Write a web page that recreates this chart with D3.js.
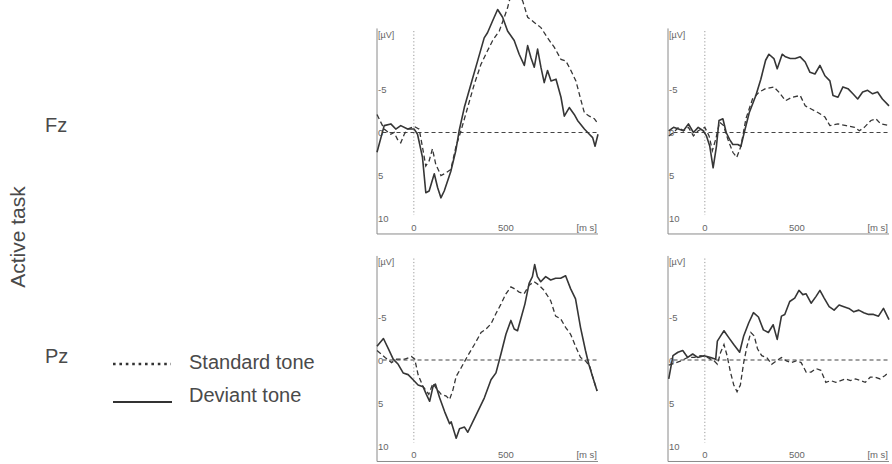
<!DOCTYPE html>
<html>
<head>
<meta charset="utf-8">
<script src="https://cdn.jsdelivr.net/npm/d3@7"></script>
<style>
  html, body { margin: 0; padding: 0; background: #fff; }
  svg { display: block; }
  text { font-family: "Liberation Sans", Arial, Helvetica, sans-serif; }
</style>
</head>
<body>
<svg id="chart" width="892" height="464"></svg>
<script>
// ---------- data (time in ms, amplitude in µV; negative plotted upward) ----------
const rowLabels = ["Fz", "Pz"];
const sideLabel = "Active task";
const seriesNames = ["Standard tone", "Deviant tone"];
const xTicks = [0, 500];
const xUnit = "[m s]";
const yTicks = [-5, 0, 5, 10];
const yUnit = "[µV]";

const fzLeftStandard = [[-200,-2.1],[-161,-0.4],[-125,0.2],[-107,0],[-89,0.8],[-71,1.2],[-52,0.2],[-34,-0.4],[2,-0.7],[29,-0.4],[47,1.7],[65,3.9],[83,3.3],[101,1.9],[119,3.7],[147,5.0],[174,4.7],[201,4.3],[228,1.7],[256,-0.2],[292,-2.9],[328,-5.6],[364,-7.9],[400,-9.5],[428,-10.7],[464,-11.8],[491,-13.4],[509,-14.5],[518,-15.3],[545,-16.5],[572,-16.1],[591,-15.3],[618,-13.4],[654,-12.8],[690,-12.2],[726,-11.0],[763,-9.9],[799,-8.5],[826,-8.3],[853,-7.2],[880,-6.0],[908,-3.7],[926,-2.3],[953,-1.9],[980,-1.6],[1000,-1.0]];
const fzLeftDeviant = [[-200,2.3],[-161,-0.8],[-125,-1.0],[-98,-0.4],[-71,-0.8],[-34,-0.4],[2,-0.4],[20,0.2],[47,2.9],[65,7.0],[83,6.8],[111,4.8],[129,6.4],[147,7.6],[165,6.8],[201,4.5],[228,2.1],[246,-0.2],[274,-2.9],[310,-5.6],[346,-8.3],[382,-11.0],[400,-11.6],[428,-13.0],[455,-14.3],[482,-13.4],[509,-11.8],[545,-10.7],[572,-9.1],[600,-7.8],[618,-10.1],[636,-8.7],[654,-7.6],[672,-9.7],[690,-7.6],[708,-5.8],[726,-7.2],[745,-6.0],[772,-6.2],[799,-4.1],[817,-1.9],[844,-2.9],[871,-2.1],[889,-1.4],[926,-0.4],[953,0.2],[971,0.6],[984,1.6],[1000,0.2]];

const fzRightStandard = [[-196,0.4],[-170,0],[-143,-0.6],[-116,-0.2],[-89,-0.6],[-62,0.4],[-36,-0.2],[0,-0.6],[23,0.4],[41,2.1],[59,0.8],[80,-1.2],[102,-0.8],[125,0.8],[152,2.3],[173,2.9],[196,1.6],[223,-1.6],[259,-3.9],[295,-4.7],[330,-5.1],[375,-5.3],[402,-4.7],[438,-3.7],[473,-4.1],[518,-4.3],[545,-3.1],[580,-2.7],[616,-2.3],[652,-1.8],[679,-0.8],[723,-1.0],[768,-0.8],[813,-0.6],[839,-0.2],[866,-0.6],[902,-1.4],[929,-1.6],[955,-1.0],[1000,-0.8]];
const fzRightDeviant = [[-196,-0.2],[-170,-0.6],[-143,-0.4],[-116,-0.2],[-89,-1.0],[-62,0],[-36,-0.6],[-9,-0.2],[9,0.4],[27,1.6],[45,4.1],[63,1.6],[77,-1.4],[98,-1.6],[116,0],[134,0.8],[152,1.4],[179,1.4],[196,1.6],[214,0],[241,-2.3],[277,-4.3],[304,-6.2],[330,-8.4],[348,-9.1],[375,-8.6],[393,-7.4],[420,-9.1],[438,-8.8],[464,-8.6],[491,-8.6],[518,-8.8],[545,-8.2],[571,-7.0],[598,-6.8],[625,-7.8],[652,-6.6],[679,-6.0],[696,-4.3],[723,-4.1],[750,-5.3],[777,-5.1],[804,-4.5],[830,-3.9],[857,-4.7],[884,-4.9],[911,-4.5],[938,-4.7],[964,-3.9],[1000,-3.1]];

const pzLeftStandard = [[-200,-1.1],[-156,-0.3],[-121,0.3],[-94,-0.1],[-49,-0.1],[-13,-0.4],[5,-0.1],[23,1.7],[50,3.1],[68,3.6],[81,4.0],[104,2.7],[122,3.3],[149,4.0],[176,4.2],[194,4.6],[212,3.5],[230,1.9],[257,0.9],[293,-0.5],[329,-1.8],[365,-3.2],[392,-3.6],[419,-4.2],[446,-5.4],[473,-6.5],[500,-7.7],[527,-8.5],[545,-8.3],[572,-7.9],[599,-7.7],[626,-8.7],[653,-9.1],[680,-8.7],[707,-8.1],[743,-6.9],[770,-5.1],[797,-4.8],[824,-3.8],[851,-3.0],[878,-1.6],[905,-0.3],[932,0.1],[955,0.7],[973,2.1],[995,3.6]];
const pzLeftDeviant = [[-200,-1.6],[-165,-2.5],[-138,-1.3],[-112,-0.1],[-85,0.5],[-58,1.5],[-31,1.7],[-4,2.3],[23,2.9],[50,3.1],[68,4.0],[86,4.8],[104,3.1],[117,2.8],[140,4.4],[167,6.0],[194,7.4],[203,7.2],[230,9.1],[248,8.0],[275,7.8],[293,8.4],[320,7.2],[347,6.0],[383,4.4],[419,2.3],[446,1.5],[473,-0.7],[500,-3.0],[527,-4.6],[545,-3.6],[563,-3.4],[581,-4.8],[603,-6.5],[626,-8.9],[644,-9.7],[656,-11.1],[671,-9.7],[689,-9.1],[716,-9.7],[743,-9.3],[770,-9.5],[797,-9.5],[824,-9.8],[851,-8.3],[878,-7.1],[905,-3.8],[932,-1.1],[950,0.5],[973,2.1],[995,3.6]];

const pzRightStandard = [[-196,0.6],[-129,0.1],[-93,-0.3],[-57,-0.3],[-21,-0.5],[14,-0.3],[50,0.1],[68,0.5],[86,-0.9],[104,-1.8],[121,-0.5],[139,1.4],[157,2.9],[175,3.7],[193,2.9],[211,0.3],[229,-1.6],[250,-3.2],[268,-2.8],[286,-1.3],[309,-0.5],[336,-0.3],[363,0.5],[389,0.1],[416,-0.3],[443,0.1],[470,0.3],[496,0.1],[523,0.3],[550,1.4],[577,1.4],[604,1.0],[630,1.2],[657,2.6],[684,2.4],[711,2.6],[738,2.4],[764,2.2],[791,2.4],[818,2.2],[845,2.4],[871,2.6],[898,2.0],[925,2.0],[952,2.2],[979,1.8],[1000,1.4]];
const pzRightDeviant = [[-196,2.2],[-173,-0.5],[-146,-0.9],[-120,-1.1],[-93,-0.3],[-66,-0.7],[-39,-0.3],[-4,-0.5],[32,-0.3],[59,-0.1],[68,-2.2],[86,-2.8],[104,-3.4],[130,-2.6],[157,-1.8],[189,-0.9],[211,-2.8],[238,-4.3],[264,-5.5],[291,-5.0],[318,-3.5],[345,-3.2],[371,-4.1],[393,-2.4],[416,-5.1],[434,-5.3],[461,-6.8],[488,-7.2],[511,-8.1],[532,-7.6],[550,-7.7],[577,-6.6],[604,-7.4],[625,-8.1],[648,-7.2],[675,-6.2],[702,-5.8],[729,-6.4],[755,-6.2],[782,-6.0],[809,-5.6],[836,-5.8],[863,-5.5],[889,-5.3],[916,-5.3],[943,-5.1],[970,-6.0],[1000,-4.7]];

const panels = [
  { row: 0, col: 0, standard: fzLeftStandard, deviant: fzLeftDeviant },
  { row: 0, col: 1, standard: fzRightStandard, deviant: fzRightDeviant },
  { row: 1, col: 0, standard: pzLeftStandard, deviant: pzLeftDeviant },
  { row: 1, col: 1, standard: pzRightStandard, deviant: pzRightDeviant }
];

// ---------- layout ----------
const svg = d3.select("#chart");
const colLeft = [377, 668];
const rowZero = [132.5, 360];
const plotW = 221;
const pxPerUV = 8.6;
const lineColor = "#363636";
const axisColor = "#8a8a8a";
const tickColor = "#666";

panels.forEach(p => {
  const x0 = colLeft[p.col];
  const z = rowZero[p.row];
  const x = d3.scaleLinear().domain([-200, 1000]).range([x0, x0 + plotW]);
  const y = d3.scaleLinear().domain([0, 10]).range([z, z + 10 * pxPerUV]);
  const g = svg.append("g");

  // axes lines
  const yTop = y(-12.1), yBot = y(11.8);
  g.append("line").attr("x1", x0).attr("x2", x0).attr("y1", yTop).attr("y2", yBot)
    .attr("stroke", axisColor).attr("stroke-width", 1);
  g.append("line").attr("x1", x0).attr("x2", x(1000)).attr("y1", yBot).attr("y2", yBot)
    .attr("stroke", axisColor).attr("stroke-width", 1);

  // stimulus onset dotted line
  g.append("line").attr("x1", x(0)).attr("x2", x(0)).attr("y1", y(-11.8)).attr("y2", y(9.6))
    .attr("stroke", "#999").attr("stroke-width", 1).attr("stroke-dasharray", "1.2,2.2");

  // zero dashed line
  g.append("line").attr("x1", x(-170)).attr("x2", x(1000)).attr("y1", y(0)).attr("y2", y(0))
    .attr("stroke", "#444").attr("stroke-width", 1.1).attr("stroke-dasharray", "4,3");

  // y tick labels
  g.append("text").attr("x", x0 + 1).attr("y", y(-11.5) + 4).text(yUnit)
    .attr("font-size", 9).attr("fill", tickColor);
  yTicks.forEach(t => {
    g.append("text").attr("x", x0 + 1).attr("y", y(t) + 3.5).text(t)
      .attr("font-size", 9.5).attr("fill", tickColor);
  });
  // x tick labels
  xTicks.forEach(t => {
    g.append("text").attr("x", x(t)).attr("y", yBot - 3).attr("text-anchor", "middle").text(t)
      .attr("font-size", 9.5).attr("fill", tickColor);
  });
  g.append("text").attr("x", x(1000) - 1).attr("y", yBot - 3).attr("text-anchor", "end").text(xUnit)
    .attr("font-size", 9.5).attr("fill", tickColor);

  const line = d3.line().x(d => x(d[0])).y(d => y(d[1]));
  g.append("path").datum(p.standard).attr("d", line).attr("fill", "none")
    .attr("stroke", lineColor).attr("stroke-width", 1.3).attr("stroke-dasharray", "5,3");
  g.append("path").datum(p.deviant).attr("d", line).attr("fill", "none")
    .attr("stroke", lineColor).attr("stroke-width", 1.6).attr("stroke-linejoin", "round");
});

// ---------- labels ----------
const labelColor = "#4a4a4a";
svg.append("text").attr("x", 45).attr("y", 132).text(rowLabels[0])
  .attr("font-size", 20).attr("fill", labelColor);
svg.append("text").attr("x", 45).attr("y", 363).text(rowLabels[1])
  .attr("font-size", 20).attr("fill", labelColor);
svg.append("text").attr("transform", "translate(25,237) rotate(-90)").attr("text-anchor", "middle")
  .text(sideLabel).attr("font-size", 21).attr("fill", labelColor);

// legend
svg.append("line").attr("x1", 113).attr("x2", 171).attr("y1", 364).attr("y2", 364)
  .attr("stroke", "#333").attr("stroke-width", 2.6).attr("stroke-dasharray", "2.6,3.8");
svg.append("text").attr("x", 189).attr("y", 369).text(seriesNames[0])
  .attr("font-size", 20).attr("fill", labelColor);
svg.append("line").attr("x1", 113).attr("x2", 172).attr("y1", 402).attr("y2", 402)
  .attr("stroke", "#333").attr("stroke-width", 2);
svg.append("text").attr("x", 189).attr("y", 402).text(seriesNames[1])
  .attr("font-size", 20).attr("fill", labelColor);
</script>
</body>
</html>
